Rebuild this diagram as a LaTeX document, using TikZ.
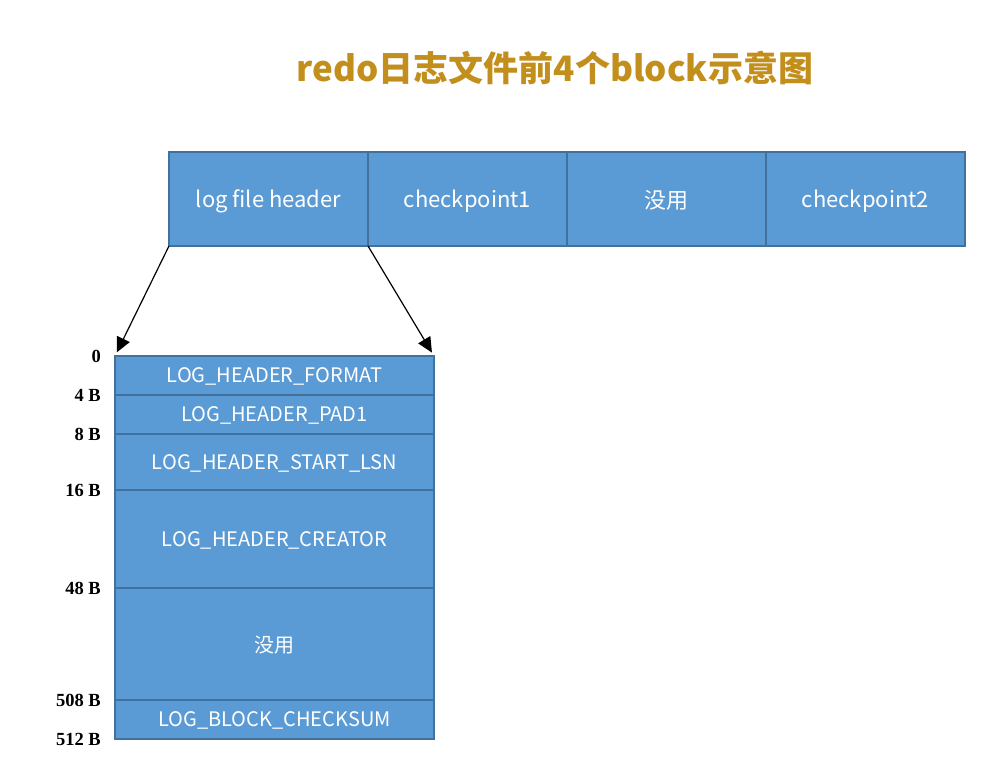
\documentclass[tikz,border=0pt]{standalone}
\usepackage{fontspec}
\setmainfont{Liberation Serif}
\newfontfamily\cjk{Noto Sans CJK SC}
\usetikzlibrary{calc}
\usetikzlibrary{positioning}
\usetikzlibrary{arrows.meta}
\definecolor{boxblue}{HTML}{5B9BD5}
\definecolor{boxline}{HTML}{41719C}
\definecolor{titlegold}{HTML}{C38F1C}
\tikzset{
cell/.style={draw=boxline,fill=boxblue,line width=1.2pt,outer sep=0pt,inner sep=0pt,text=white,text depth=0pt,font=\cjk\fontsize{22}{26}\selectfont,minimum width=199pt,minimum height=94pt},
field/.style={draw=boxline,fill=boxblue,line width=1.2pt,outer sep=0pt,inner sep=0pt,text=white,text depth=0pt,font=\cjk\fontsize{20}{24}\selectfont,minimum width=319pt},
offset/.style={anchor=east,font=\bfseries\fontsize{18.5}{20}\selectfont,inner sep=0pt},
expand/.style={-{Triangle[length=15pt,width=14pt]},line width=1.2pt}
}
\begin{document}
\begin{tikzpicture}
\useasboundingbox (0,0) rectangle (983pt,757pt);

\node[font=\cjk\bfseries\fontsize{35}{40}\selectfont,text=titlegold] (title) at (555pt,689pt) {redo日志文件前4个block示意图};

\node[cell] (log) at (268.5pt,558pt) {log file header};
\node[cell,right=0pt of log] (cp1) {checkpoint1};
\node[cell,right=0pt of cp1] (unused) {没用};
\node[cell,right=0pt of unused] (cp2) {checkpoint2};

\node[field,minimum height=39pt] (f1) at (274.5pt,381.5pt) {LOG\_HEADER\_FORMAT};
\node[field,minimum height=39pt,below=0pt of f1] (f2) {LOG\_HEADER\_PAD1};
\node[field,minimum height=56pt,below=0pt of f2] (f3) {LOG\_HEADER\_START\_LSN};
\node[field,minimum height=98pt,below=0pt of f3] (f4) {LOG\_HEADER\_CREATOR};
\node[field,minimum height=112pt,below=0pt of f4] (f5) {没用};
\node[field,minimum height=39pt,below=0pt of f5] (f6) {LOG\_BLOCK\_CHECKSUM};

\node[offset,left=14pt of f1.north west] {0};
\node[offset,left=14pt of f2.north west] {4 B};
\node[offset,left=14pt of f3.north west] {8 B};
\node[offset,left=14pt of f4.north west] {16 B};
\node[offset,left=14pt of f5.north west] {48 B};
\node[offset,left=14pt of f6.north west] {508 B};
\node[offset,left=14pt of f6.south west] {512 B};

\draw[expand,shorten >=4pt] (log.south west) -- (f1.north west);
\draw[expand,shorten >=4pt] (log.south east) -- (f1.north east);
\end{tikzpicture}
\end{document}
